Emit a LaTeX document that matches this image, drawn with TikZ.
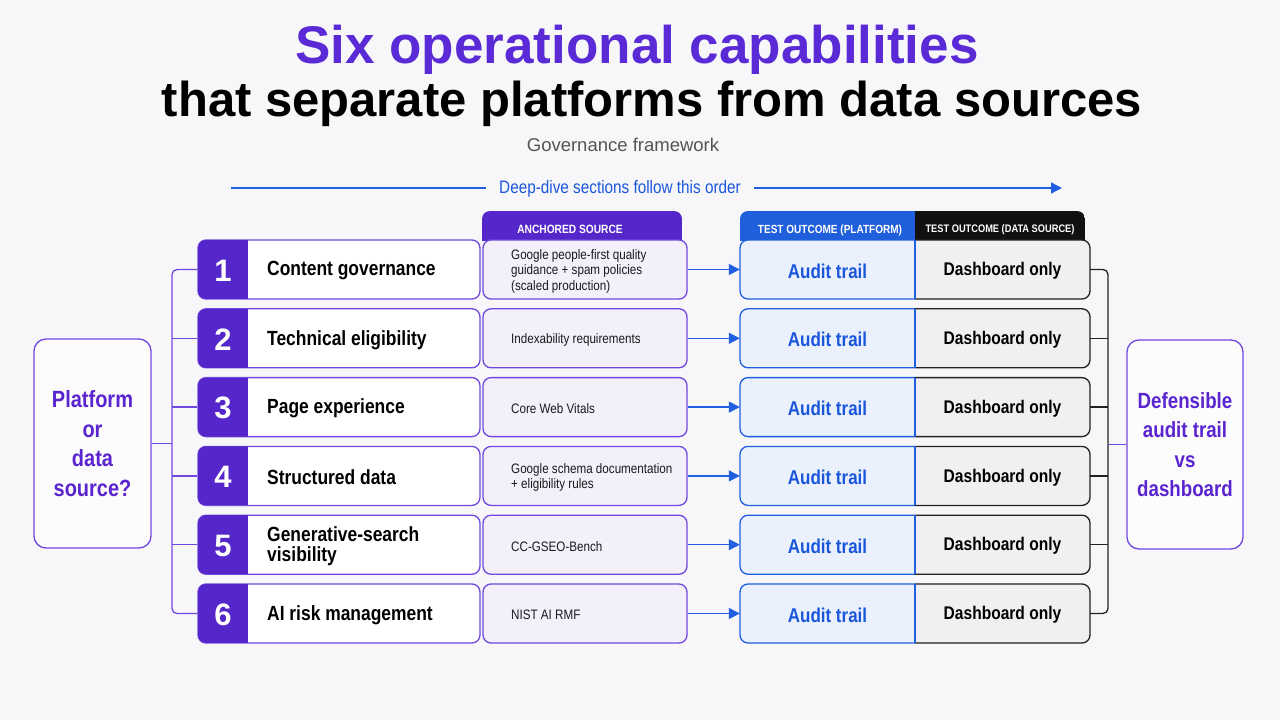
\documentclass[tikz,border=0pt]{standalone}
\usepackage{fontspec}
\setmainfont{Liberation Sans}
\newfontfamily\cnd{Liberation Sans}[FakeStretch=0.85]
\usetikzlibrary{arrows.meta}

\definecolor{bg}{HTML}{F7F7FA}
\definecolor{titlepurple}{HTML}{5A2AD6}
\definecolor{numfill}{HTML}{5526C9}
\definecolor{pline}{HTML}{7048E0}
\definecolor{srcfill}{HTML}{F3F0FC}
\definecolor{bline}{HTML}{1F5FE0}
\definecolor{btext}{HTML}{1A56DB}
\definecolor{audfill}{HTML}{EAF1FD}
\definecolor{dashfill}{HTML}{F0F0F2}
\definecolor{darkline}{HTML}{222222}
\definecolor{subgray}{HTML}{555555}
\definecolor{hblue}{HTML}{1F5FDB}
\definecolor{hblack}{HTML}{111111}
\definecolor{qtext}{HTML}{5A24D0}

\begin{document}
\begin{tikzpicture}[x=1pt,y=-1pt,
  capbox/.style={draw=pline, line width=1.3pt, fill=white, rounded corners=8pt, minimum width=282pt, minimum height=59pt, inner sep=0pt},
  srcbox/.style={draw=pline, line width=1.3pt, fill=srcfill, rounded corners=8pt, minimum width=204pt, minimum height=59pt, inner sep=0pt},
  numtext/.style={text=white, font=\fontsize{31}{32}\selectfont\bfseries, inner sep=0pt},
  captext/.style={text=black, font=\cnd\fontsize{20.5}{20}\selectfont\bfseries, align=left, anchor=west, inner sep=0pt},
  srctext/.style={text=black!90, font=\cnd\fontsize{13.7}{15.5}\selectfont, align=left, anchor=west, inner sep=0pt},
  audtext/.style={text=btext, font=\cnd\fontsize{20}{22}\selectfont\bfseries, minimum width=175pt, minimum height=59pt, inner sep=0pt},
  dashtext/.style={text=black, font=\cnd\fontsize{18.3}{22}\selectfont\bfseries, minimum width=175pt, minimum height=59pt, inner sep=0pt},
  hdrtext/.style={text=white, font=\cnd\fontsize{12}{12}\selectfont\bfseries, inner sep=0pt},
  sidebox/.style={draw=pline, line width=1.3pt, fill=white!60!bg, rounded corners=12pt, text=qtext, font=\cnd\fontsize{23.5}{29.5}\selectfont\bfseries, align=center, inner sep=0pt},
  plinestyle/.style={draw=pline, line width=1.3pt},
  dlinestyle/.style={draw=darkline, line width=1.3pt},
  arr/.style={draw=bline, line width=1.4pt, -{Triangle[length=11pt,width=11pt]}}
]
\fill[bg] (0,0) rectangle (1280,720);
\useasboundingbox (0,0) rectangle (1280,720);

% titles
\node[text=titlepurple, font=\fontsize{53}{60}\selectfont\bfseries, inner sep=0pt] (t1) at (637,50) {Six operational capabilities};
\node[text=black, font=\fontsize{49}{56}\selectfont\bfseries, inner sep=0pt] (t2) at (652,104) {that separate platforms from data sources};
\node[text=subgray, font=\fontsize{18.5}{20}\selectfont, inner sep=0pt] (sub) at (623,145) {Governance framework};

% order arrow
\node[text=btext, font=\cnd\fontsize{18}{20}\selectfont, inner xsep=13pt, inner ysep=0pt] (order) at (620,189) {Deep-dive sections follow this order};
\coordinate (ordL) at (231,188);
\coordinate (ordR) at (1062,188);
\draw[draw=bline, line width=1.4pt] (ordL) -- (ordL -| order.west);
\draw[arr] (ordL -| order.east) -- (ordR);

% headers
\begin{scope}
  \clip[rounded corners=8pt] (482,211) rectangle (682,270);
  \fill[numfill] (482,211) rectangle (682,241);
\end{scope}
\node[hdrtext] (hsrc) at (570,229.5) {ANCHORED SOURCE};
\begin{scope}
  \clip[rounded corners=8pt] (740,211) rectangle (1085,270);
  \fill[hblue] (740,211) rectangle (915,241);
  \fill[hblack] (915,211) rectangle (1085,241);
\end{scope}
\node[hdrtext, font=\cnd\fontsize{11.8}{12}\selectfont\bfseries] (hplat) at (830,230) {TEST OUTCOME (PLATFORM)};
\node[hdrtext, font=\cnd\fontsize{10.9}{12}\selectfont\bfseries] (hdata) at (1000,230) {TEST OUTCOME (DATA SOURCE)};

% rows
\foreach \i/\capname/\srcname in {
  1/{Content governance}/{Google people-first quality\\guidance + spam policies\\(scaled production)},
  2/{Technical eligibility}/{Indexability requirements},
  3/{Page experience}/{Core Web Vitals},
  4/{Structured data}/{Google schema documentation\\+ eligibility rules},
  5/{Generative-search\\visibility}/{CC-GSEO-Bench},
  6/{AI risk management}/{NIST AI RMF}} {
  \pgfmathsetmacro\yc{269.5+68.8*(\i-1)}
  % capability
  \node[capbox] (cap\i) at (339,\yc) {};
  \begin{scope}
    \clip[rounded corners=8pt] (198,\yc-29.5) rectangle (480,\yc+29.5);
    \fill[numfill] (198,\yc-29.5) rectangle (248,\yc+29.5);
  \end{scope}
  \node[numtext] (num\i) at (223,\yc+1) {\i};
  \node[captext] (capt\i) at (267,\yc+1.5) {\capname};
  % source
  \node[srcbox] (src\i) at (585,\yc) {};
  \node[srctext] (srct\i) at (511,\yc+1.5) {\srcname};
  % outcome boxes
  \begin{scope}
    \clip (736,\yc-33) rectangle (915,\yc+33);
    \draw[draw=bline, line width=1.3pt, fill=audfill, rounded corners=8pt] (740,\yc-29.5) rectangle (950,\yc+29.5);
  \end{scope}
  \begin{scope}
    \clip (915,\yc-33) rectangle (1094,\yc+33);
    \draw[draw=darkline, line width=1.3pt, fill=dashfill, rounded corners=8pt] (880,\yc-29.5) rectangle (1090,\yc+29.5);
  \end{scope}
  \draw[draw=bline, line width=1.3pt] (915,\yc-29.5) -- (915,\yc+29.5);
  \node[audtext] (aud\i) at (827.5,\yc+1.5) {Audit trail};
  \node[dashtext] (dash\i) at (1002.5,\yc+1.5) {Dashboard only};
  \draw[arr] (src\i.east) -- (aud\i.west |- src\i.east);
}

% side boxes
\node[sidebox, minimum width=117pt, minimum height=209pt] (qbox) at (92.5,443.5) {Platform\\or\\data\\source?};
\node[sidebox, minimum width=116pt, minimum height=209pt, font=\cnd\fontsize{22}{29.5}\selectfont\bfseries] (abox) at (1185,444.5) {Defensible\\audit trail\\vs\\dashboard};

% left bracket
\coordinate (lbT) at (172,269.5);
\coordinate (lbB) at (172,613.5);
\coordinate (lbM) at (172,443.5);
\draw[plinestyle, rounded corners=5pt] (cap1.west) -- (lbT) -- (lbB) -- (cap6.west);
\foreach \i in {2,3,4,5} {
  \draw[plinestyle] (cap\i.west) -- (cap\i.west -| lbT);
}
\draw[plinestyle] (qbox.east) -- (lbM);

% right bracket
\coordinate (rbT) at (1108,269.5);
\coordinate (rbB) at (1108,613.5);
\coordinate (rbM) at (1108,444.5);
\draw[dlinestyle, rounded corners=5pt] (dash1.east |- cap1.east) -- (rbT) -- (rbB) -- (dash6.east |- cap6.east);
\foreach \i in {2,3,4,5} {
  \draw[dlinestyle] (dash\i.east |- cap\i.east) -- (cap\i.east -| rbT);
}
\draw[plinestyle] (rbM) -- (abox.west);
\end{tikzpicture}
\end{document}
